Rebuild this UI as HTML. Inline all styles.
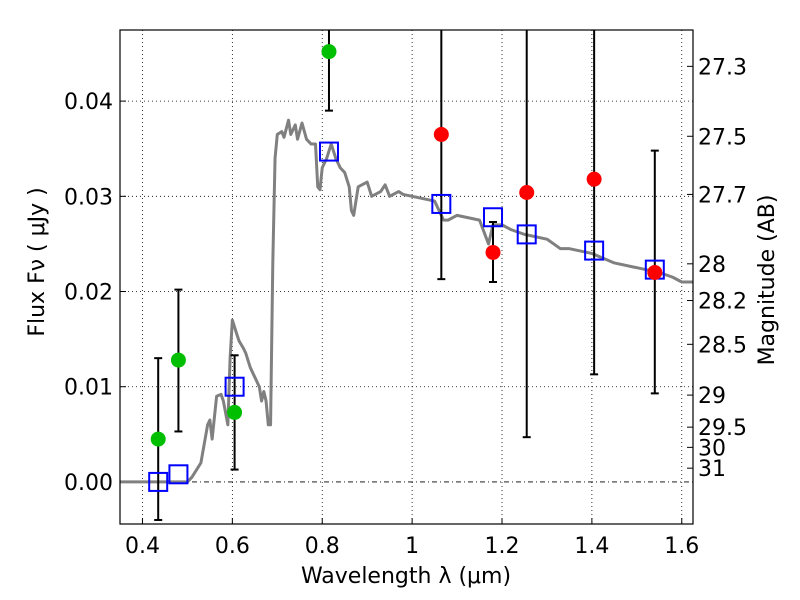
<!DOCTYPE html>
<html><head><meta charset="utf-8"><style>
body{margin:0;background:#fff}
svg{display:block;font-family:"DejaVu Sans","Liberation Sans",sans-serif}
</style></head><body>
<svg id="chart" width="800" height="600" xmlns="http://www.w3.org/2000/svg"></svg>
<script>
const xTicks=[0.4,0.6,0.8,1,1.2,1.4,1.6];
const xTickLabels=["0.4","0.6","0.8","1","1.2","1.4","1.6"];
const yTicks=[0,0.01,0.02,0.03,0.04];
const yTickLabels=["0.00","0.01","0.02","0.03","0.04"];
const magTicks=[27.3,27.5,27.7,28,28.2,28.5,29,29.5,30,31];
const magLabels=["27.3","27.5","27.7","28","28.2","28.5","29","29.5","30","31"];
const sedX=[0.35,0.5,0.51,0.53,0.545,0.55,0.555,0.565,0.575,0.58,0.59,0.595,0.6,0.61,0.615,0.625,0.63,0.64,0.65,0.66,0.665,0.67,0.675,0.68,0.685,0.69,0.695,0.7,0.71,0.715,0.725,0.73,0.74,0.745,0.755,0.765,0.775,0.785,0.79,0.795,0.8,0.81,0.82,0.83,0.84,0.85,0.86,0.865,0.87,0.88,0.9,0.91,0.93,0.94,0.95,0.97,0.98,1.0,1.05,1.06,1.07,1.08,1.1,1.15,1.17,1.18,1.2,1.22,1.25,1.3,1.33,1.35,1.4,1.45,1.5,1.55,1.58,1.6,1.625];
const sedY=[0,0,0.0005,0.002,0.006,0.0065,0.0045,0.009,0.0092,0.0085,0.006,0.013,0.017,0.0155,0.0148,0.014,0.0135,0.012,0.011,0.01,0.0085,0.0095,0.0085,0.006,0.006,0.023,0.034,0.0365,0.0368,0.0362,0.038,0.0365,0.0375,0.036,0.0377,0.036,0.0355,0.0355,0.031,0.0307,0.033,0.034,0.0355,0.034,0.033,0.0325,0.031,0.0285,0.028,0.031,0.0315,0.03,0.0305,0.0312,0.03,0.0305,0.0302,0.03,0.0295,0.0285,0.0275,0.0275,0.028,0.0275,0.025,0.027,0.027,0.0265,0.026,0.0255,0.0245,0.0245,0.024,0.023,0.0225,0.022,0.0215,0.021,0.021];
const greenX=[0.435,0.48,0.605,0.815];
const greenY=[0.0045,0.0128,0.0073,0.0452];
const greenLo=[-0.004,0.0053,0.0013,0.039];
const greenHi=[0.013,0.0202,0.0133,0.06];
const redX=[1.065,1.18,1.255,1.405,1.54];
const redY=[0.0365,0.0241,0.0304,0.0318,0.022];
const redLo=[0.0213,0.021,0.0047,0.0113,0.0093];
const redHi=[0.06,0.0273,0.06,0.06,0.0348];
const modelX=[0.435,0.48,0.605,0.815,1.065,1.18,1.255,1.405,1.54];
const modelY=[0,0.0008,0.01,0.0347,0.0292,0.0278,0.026,0.0243,0.0223];

const L=120,R=693,T=30,B=524;
const xmin=0.35,xmax=1.625,ymin=-0.00442,ymax=0.04747;
const sx=v=>L+(v-xmin)/(xmax-xmin)*(R-L);
const sy=v=>B-(v-ymin)/(ymax-ymin)*(B-T);
const NS="http://www.w3.org/2000/svg";
const svg=document.getElementById('chart');
function mk(tag,attrs,parent){const e=document.createElementNS(NS,tag);for(const k in attrs)e.setAttribute(k,attrs[k]);(parent||svg).appendChild(e);return e;}
const defs=mk('defs',{});
const cp=mk('clipPath',{id:'clip'},defs);
mk('rect',{x:L,y:T,width:R-L,height:B-T},cp);

xTicks.forEach((v,i)=>{
 const g=mk('line',{x1:sx(v),x2:sx(v),y1:T,y2:B,stroke:'#000','stroke-width':0.8,'stroke-dasharray':'1,3'});
 
 
 const t=mk('line',{x1:sx(v),x2:sx(v),y1:B,y2:B-6,stroke:'#000','stroke-width':1});
 
 
 const tx=mk('text',{x:sx(v),y:B+29,'font-size':22,'text-anchor':'middle'});
 tx.textContent=xTickLabels[i];
 
 
});
yTicks.forEach((v,i)=>{
 const g=mk('line',{x1:L,x2:R,y1:sy(v),y2:sy(v),stroke:'#000','stroke-width':0.8,'stroke-dasharray':v===0?'5,3,1,3':'1,3'});
 
 
 const t=mk('line',{x1:L,x2:L+6,y1:sy(v),y2:sy(v),stroke:'#000','stroke-width':1});
 
 
 const tx=mk('text',{x:L-7,y:sy(v)+8,'font-size':22,'text-anchor':'end'});
 tx.textContent=yTickLabels[i];
 
 
});
magTicks.forEach((m,i)=>{
 const f=Math.pow(10,(23.9-m)/2.5);
 const y=sy(f);
 const t=mk('line',{x1:R,x2:R-6,y1:y,y2:y,stroke:'#000','stroke-width':1});
 
 
 const tx=mk('text',{x:R+5,y:y+8,'font-size':22,'text-anchor':'start'});
 tx.textContent=magLabels[i];
 
 
});

const plot=mk('g',{'clip-path':'url(#clip)'});


const sed=mk('polyline',{points:sedX.map((x,i)=>sx(x)+','+sy(sedY[i])).join(' '),fill:'none',stroke:'#808080','stroke-width':3,'stroke-linejoin':'round'},plot);



function errbar(x,lo,hi){
 const g=mk('g',{},plot);
 
 
 mk('line',{x1:sx(x),x2:sx(x),y1:sy(lo),y2:sy(hi),stroke:'#000','stroke-width':2},g);
 mk('line',{x1:sx(x)-4,x2:sx(x)+4,y1:sy(lo),y2:sy(lo),stroke:'#000','stroke-width':2},g);
 mk('line',{x1:sx(x)-4,x2:sx(x)+4,y1:sy(hi),y2:sy(hi),stroke:'#000','stroke-width':2},g);
}
greenX.forEach((x,i)=>errbar(x,greenLo[i],greenHi[i]));
redX.forEach((x,i)=>errbar(x,redLo[i],redHi[i]));
modelX.forEach((x,i)=>{
 const r=mk('rect',{x:sx(x)-9,y:sy(modelY[i])-9,width:18,height:18,fill:'none',stroke:'#0000ff','stroke-width':2},plot);
 
 
});
greenX.forEach((x,i)=>{
 const c=mk('circle',{cx:sx(x),cy:sy(greenY[i]),r:7.5,fill:'#00bf00'},plot);
 
 
});
redX.forEach((x,i)=>{
 const c=mk('circle',{cx:sx(x),cy:sy(redY[i]),r:7.5,fill:'#ff0000'},plot);
 
 
});

const frame=mk('rect',{x:L,y:T,width:R-L,height:B-T,fill:'none',stroke:'#000','stroke-width':1.2});



const xl=mk('text',{x:406,y:583,'font-size':22,'text-anchor':'middle'});
xl.textContent='Wavelength  λ (μm)';


const yl=mk('text',{x:0,y:0,'font-size':22,'text-anchor':'middle',transform:'translate(44,262) rotate(-90)'});
yl.textContent='Flux  Fν  ( μJy )';


const ml=mk('text',{x:0,y:0,'font-size':22,'text-anchor':'middle',transform:'translate(774,280) rotate(-90)'});
ml.textContent='Magnitude (AB)';


</script>
</body></html>
